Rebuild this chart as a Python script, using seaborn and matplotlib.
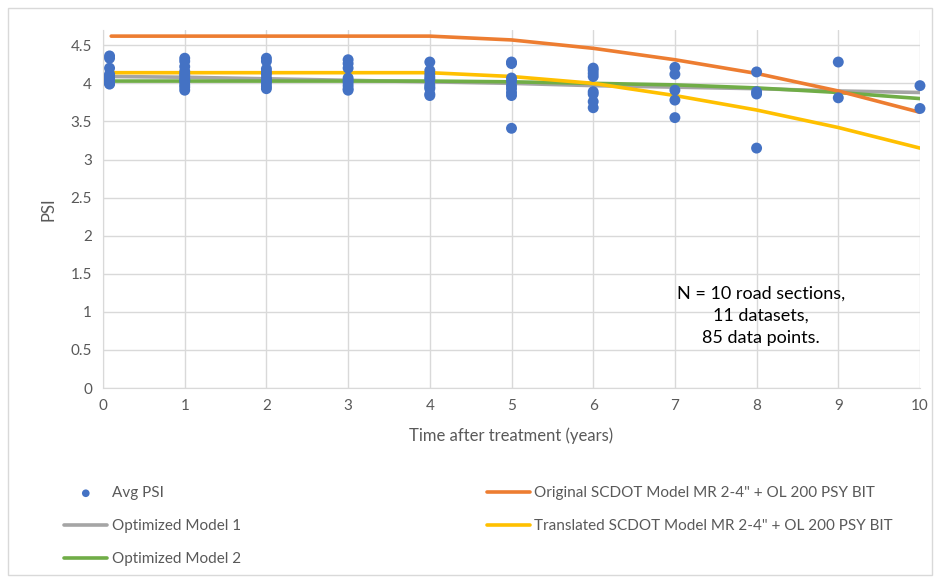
import matplotlib
matplotlib.use("Agg")
import matplotlib.pyplot as plt
from matplotlib.patches import Rectangle
import seaborn as sns
import pandas as pd

# ---- data ----
point_years = [0.08] * 13 + [1] * 12 + [2] * 11 + [3] * 9 + [4] * 10 + [5] * 9 + [6] * 8 + [7] * 5 + [8] * 4 + [9] * 2 + [10] * 2
avg_psi = [4.36, 4.33, 4.20, 4.12, 4.09, 4.07, 4.06, 4.04, 4.02, 4.01, 4.00, 3.99, 4.10,
           4.33, 4.29, 4.22, 4.16, 4.10, 4.06, 4.02, 3.98, 3.95, 3.91, 4.12, 4.04,
           4.33, 4.29, 4.19, 4.12, 4.07, 4.03, 4.00, 3.96, 3.93, 4.15, 4.05,
           4.31, 4.26, 4.20, 4.07, 4.04, 4.01, 3.97, 3.93, 3.91,
           4.28, 4.17, 4.12, 4.08, 4.05, 3.98, 3.95, 3.93, 3.86, 3.84,
           4.28, 4.26, 4.07, 4.03, 3.97, 3.93, 3.88, 3.84, 3.41,
           4.20, 4.17, 4.13, 4.09, 3.89, 3.86, 3.76, 3.68,
           4.21, 4.12, 3.91, 3.78, 3.55,
           4.15, 3.89, 3.86, 3.15,
           4.28, 3.81,
           3.97, 3.67]

model_years = [0.1, 1, 2, 3, 4, 5, 6, 7, 8, 9, 10]
original_scdot = [4.62, 4.62, 4.62, 4.62, 4.62, 4.57, 4.46, 4.31, 4.13, 3.90, 3.62]
translated_scdot = [4.14, 4.14, 4.14, 4.14, 4.14, 4.09, 4.00, 3.84, 3.65, 3.42, 3.15]
optimized_1 = [4.09, 4.08, 4.06, 4.04, 4.02, 4.00, 3.97, 3.95, 3.93, 3.90, 3.88]
optimized_2 = [4.03, 4.03, 4.03, 4.03, 4.03, 4.02, 4.00, 3.98, 3.94, 3.88, 3.80]

y_ticks = [0, 0.5, 1, 1.5, 2, 2.5, 3, 3.5, 4, 4.5]
x_ticks = list(range(11))

points = pd.DataFrame({"year": point_years, "psi": avg_psi})
models = {
    "Optimized Model 1": (optimized_1, "#A5A5A5"),
    "Optimized Model 2": (optimized_2, "#70AD47"),
    "Original SCDOT Model MR 2-4\" + OL 200 PSY BIT": (original_scdot, "#ED7D31"),
    "Translated SCDOT Model MR 2-4\" + OL 200 PSY BIT": (translated_scdot, "#FFC000"),
}

sns.set_style("white")
plt.rcParams["font.family"] = ["Lato", "DejaVu Sans"]
text_col = "#595959"

fig = plt.figure(figsize=(9.4, 5.82), dpi=100)
ax = fig.add_axes([0.1096, 0.3333, 0.8691, 0.6151])

handles = {}
for name, (vals, col) in models.items():
    df = pd.DataFrame({"year": model_years, "psi": vals})
    sns.lineplot(data=df, x="year", y="psi", ax=ax, color=col, linewidth=2.6,
                 estimator=None, sort=False, label=name, legend=False, zorder=3)
    handles[name] = ax.lines[-1]

sns.scatterplot(data=points, x="year", y="psi", ax=ax, color="#4472C4", s=62,
                edgecolor="none", label="Avg PSI", legend=False, zorder=4, clip_on=False)
sc = ax.collections[-1]

ax.set_xlim(0, 10)
ax.set_ylim(0, 4.7)
ax.set_xticks(x_ticks)
ax.set_yticks(y_ticks)
ax.set_xticklabels([str(t) for t in x_ticks])
ax.set_yticklabels([f"{t:g}" for t in y_ticks])
ax.grid(True, color="#D9D9D9", linewidth=1)
ax.set_axisbelow(True)
for s in ["top", "right"]:
    ax.spines[s].set_visible(False)
for s in ["left", "bottom"]:
    ax.spines[s].set_color("#D9D9D9")
ax.tick_params(length=0, labelsize=11, colors=text_col, pad=8)
ax.set_xlabel("Time after treatment (years)", fontsize=12, color=text_col, labelpad=10)
ax.set_ylabel("PSI", fontsize=12, color=text_col, labelpad=10)

ax.text(8.05, 0.95, "N = 10 road sections,\n11 datasets,\n85 data points.",
        ha="center", va="center", fontsize=13, linespacing=1.45, color="black")

order = ["Avg PSI", "Optimized Model 1", "Optimized Model 2",
         "Original SCDOT Model MR 2-4\" + OL 200 PSY BIT",
         "Translated SCDOT Model MR 2-4\" + OL 200 PSY BIT"]
hlist = [sc] + [handles[n] for n in order[1:]]
fig.legend(hlist, order, loc="upper left", bbox_to_anchor=(0.062, 0.175), ncol=2,
           frameon=False, fontsize=11, handlelength=2.8, handletextpad=0.3,
           columnspacing=16.1, labelspacing=1.25, labelcolor=text_col,
           borderaxespad=0, markerscale=0.7)

fig.patches.append(Rectangle((0.009, 0.012), 0.982, 0.975, transform=fig.transFigure,
                             fill=False, edgecolor="#D9D9D9", linewidth=1))

fig.savefig("out.png", dpi=100)
